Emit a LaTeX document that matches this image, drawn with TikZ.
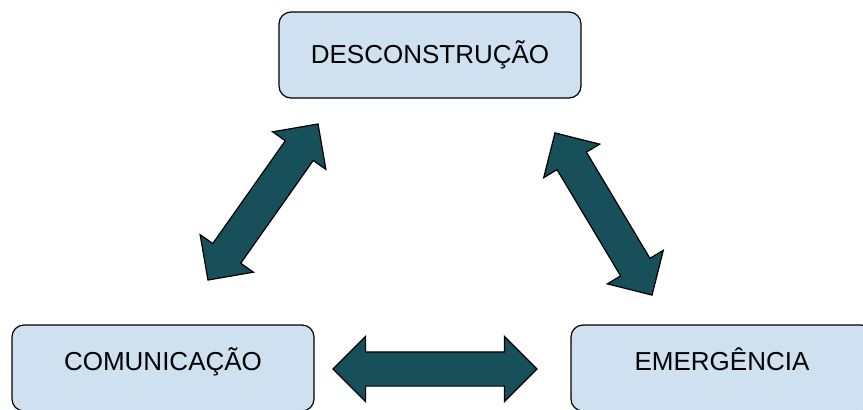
\documentclass[tikz,border=0pt]{standalone}
\usepackage{fontspec}
\setmainfont{Liberation Sans}
\usetikzlibrary{shapes.arrows}
\definecolor{boxblue}{RGB}{207,224,241}
\definecolor{arrowteal}{RGB}{23,79,91}

\begin{document}
\begin{tikzpicture}[x=1pt,y=-1pt,
    box/.style={draw, line width=1.2pt, rounded corners=12pt, fill=boxblue,
                minimum width=302pt, minimum height=86pt, font=\fontsize{26}{30}\selectfont},
    link/.style={double arrow, draw, line width=1.2pt, fill=arrowteal, inner xsep=0pt, inner ysep=16.5pt,
                 minimum width=64pt, double arrow head extend=15.5pt}]
    \useasboundingbox (0,0) rectangle (863,410);

    \node[box] (desc) at (430,55)  {DESCONSTRUÇÃO};
    \node[box, text depth=17.5pt] (comu) at (163,368) {COMUNICAÇÃO};
    \node[box, text depth=17.5pt] (emer) at (722,368) {EMERGÊNCIA};

    \node[link, minimum height=204pt]              (comuemer) at (435,369)   {};
    \node[link, minimum height=191pt, rotate=54.8]  (comudesc) at (263,202)   {};
    \node[link, minimum height=189pt, rotate=-59.1] (descemer) at (603.5,214) {};
\end{tikzpicture}
\end{document}
